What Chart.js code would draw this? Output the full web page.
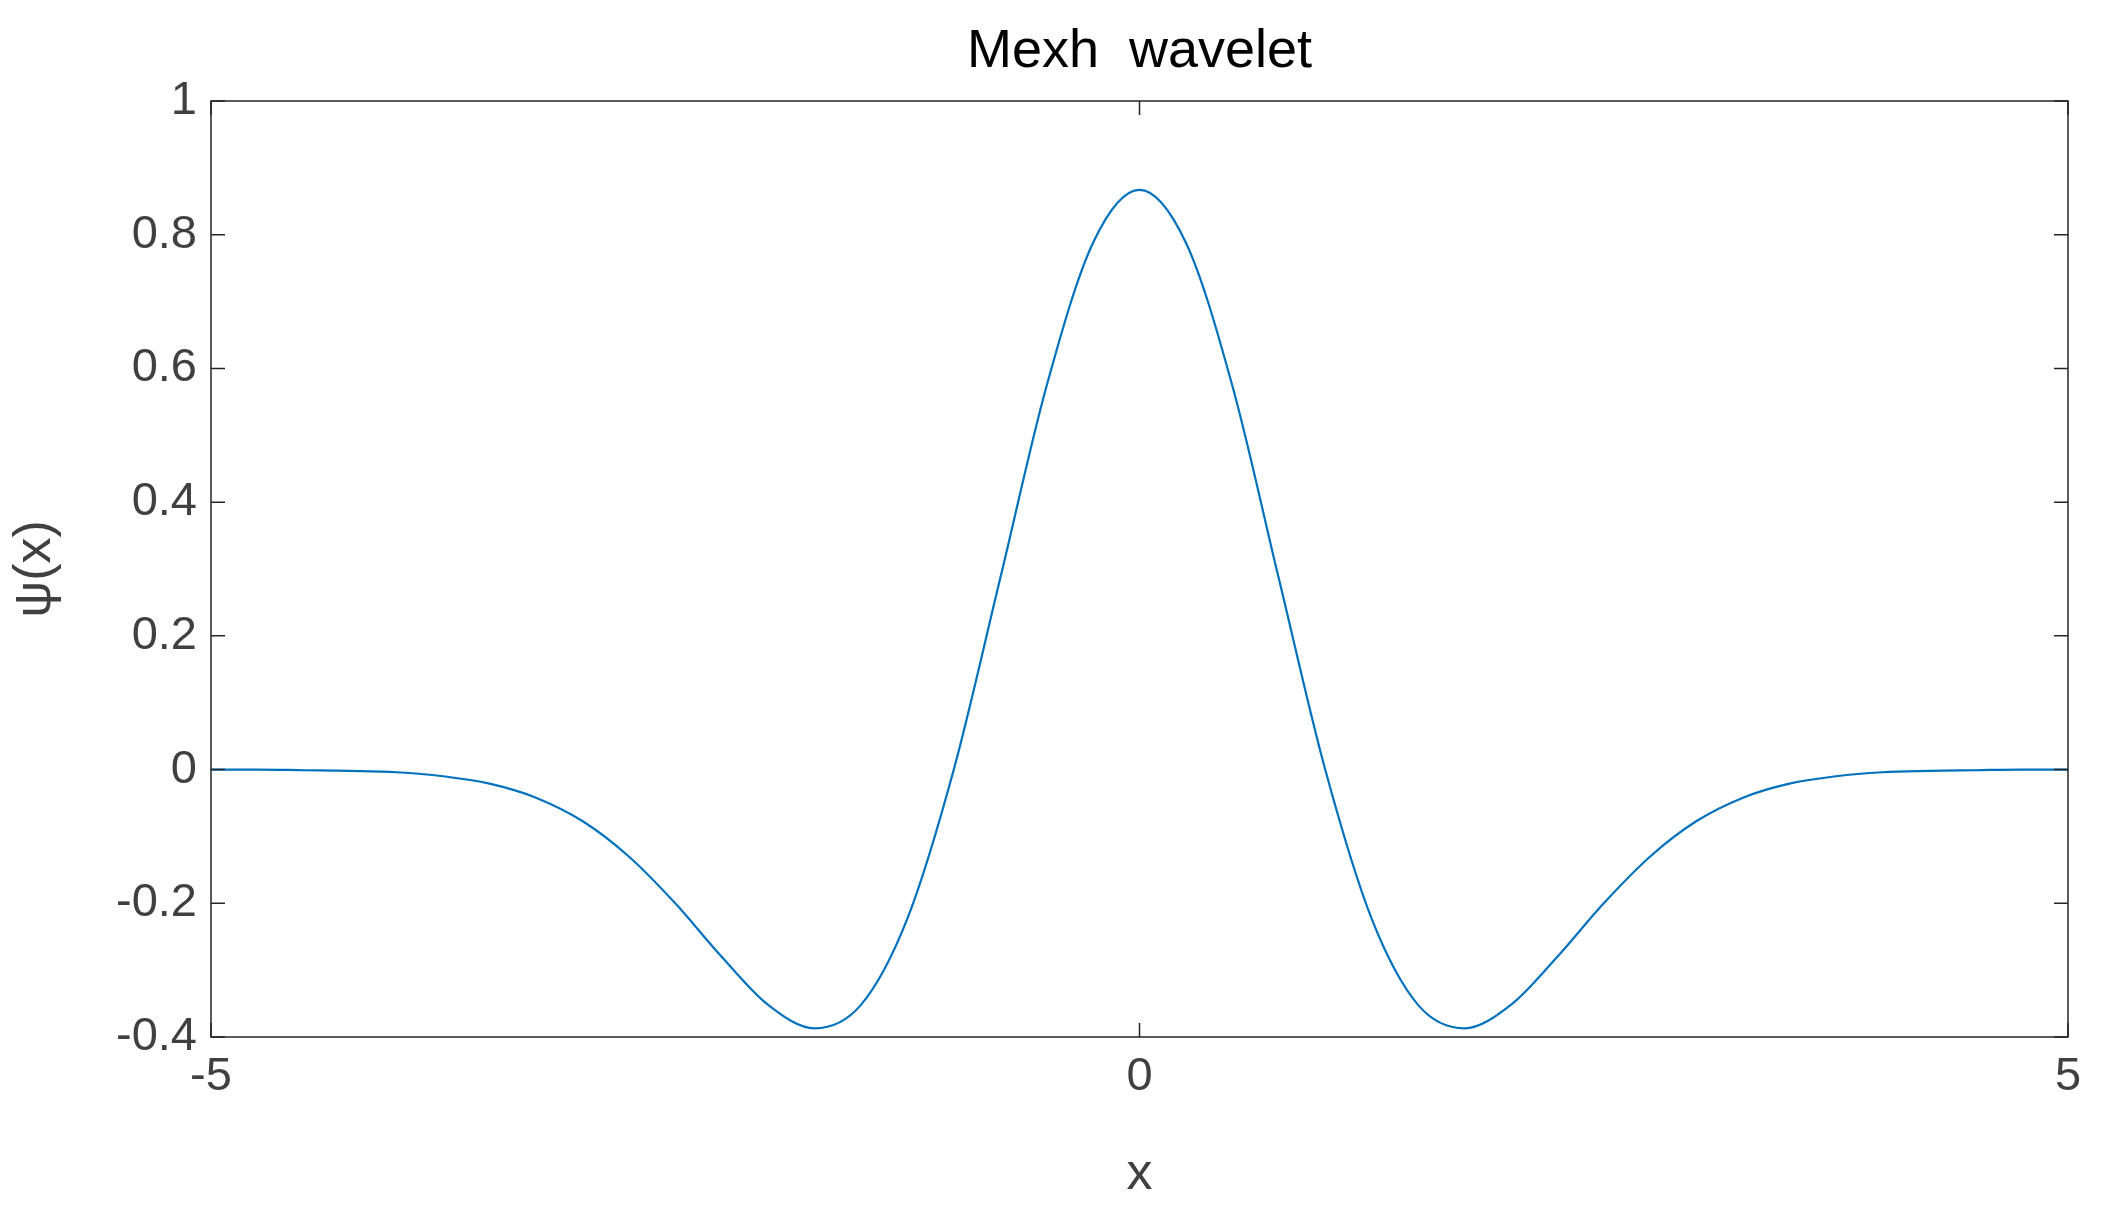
<!DOCTYPE html>
<html><head><meta charset="utf-8">
<script src="https://cdn.jsdelivr.net/npm/chart.js@4"></script>
<style>body{margin:0;background:#fff}canvas{display:block}</style>
</head><body>
<canvas id="c" width="2112" height="1210"></canvas>
<script>
const xValues = [-5,-4.75,-4.5,-4.25,-4,-3.75,-3.5,-3.25,-3,-2.75,-2.5,-2.25,-2,-1.75,-1.5,-1.25,-1,-0.75,-0.5,-0.25,0,0.25,0.5,0.75,1,1.25,1.5,1.75,2,2.25,2.5,2.75,3,3.25,3.5,3.75,4,4.25,4.5,4.75,5];
const psiValues = [0,0,-0.001,-0.002,-0.004,-0.010,-0.021,-0.042,-0.077,-0.130,-0.200,-0.280,-0.352,-0.387,-0.352,-0.223,0,0.286,0.574,0.788,0.867,0.788,0.574,0.286,0,-0.223,-0.352,-0.387,-0.352,-0.280,-0.200,-0.130,-0.077,-0.042,-0.021,-0.010,-0.004,-0.002,-0.001,0,0];
const xTicks = [-5,0,5];
const yTicks = [-0.4,-0.2,0,0.2,0.4,0.6,0.8,1];
const titleText = 'Mexh  wavelet';

const frame = {
  id:'frame',
  afterDraw(ch){
    const {ctx, chartArea:a, scales:{x,y}} = ch;
    ctx.save();
    ctx.strokeStyle='#262626'; ctx.lineWidth=1.5;
    ctx.strokeRect(a.left,a.top,a.right-a.left,a.bottom-a.top);
    const L=14;
    ctx.beginPath();
    xTicks.forEach(v=>{const p=x.getPixelForValue(v);
      ctx.moveTo(p,a.bottom);ctx.lineTo(p,a.bottom-L);ctx.moveTo(p,a.top);ctx.lineTo(p,a.top+L);});
    yTicks.forEach(v=>{const p=y.getPixelForValue(v);
      ctx.moveTo(a.left,p);ctx.lineTo(a.left+L,p);ctx.moveTo(a.right,p);ctx.lineTo(a.right-L,p);});
    ctx.stroke();
    ctx.fillStyle='#000'; ctx.font='54px Arial, "Liberation Sans"';
    ctx.textAlign='center'; ctx.textBaseline='middle';
    ctx.fillText(titleText,(a.left+a.right)/2,52);
    ctx.restore();
  }
};

new Chart(document.getElementById('c'),{
  type:'scatter',
  data:{datasets:[{data:xValues.map((v,i)=>({x:v,y:psiValues[i]})),showLine:true,
    borderColor:'#0072BD',borderWidth:2.2,pointRadius:0,cubicInterpolationMode:'monotone',fill:false}]},
  options:{
    responsive:false,animation:false,
    layout:{padding:{top:101,right:44,left:0,bottom:0}},
    plugins:{legend:{display:false},tooltip:{enabled:false}},
    scales:{
      x:{type:'linear',min:-5,max:5,
        afterBuildTicks(s){s.ticks=xTicks.map(v=>({value:v}));},
        afterFit(s){s.height=173;},
        grid:{display:false,drawTicks:false},border:{display:false},
        ticks:{color:'#404040',font:{size:47,family:'Arial, "Liberation Sans"'},padding:12},
        title:{display:true,text:'x',color:'#404040',font:{size:52,family:'Arial, "Liberation Sans"'},padding:{top:10}}},
      y:{min:-0.4,max:1,
        afterBuildTicks(s){s.ticks=yTicks.map(v=>({value:v}));},
        afterFit(s){s.width=211;},
        grid:{display:false,drawTicks:false},border:{display:false},
        ticks:{color:'#404040',font:{size:47,family:'Arial, "Liberation Sans"'},padding:14,
          callback:v=>String(Math.round(v*10)/10)},
        title:{display:true,text:'ψ(x)',color:'#404040',font:{size:52,family:'Arial, "Liberation Sans"'},padding:{bottom:6}}}
    }
  },
  plugins:[frame]
});
</script>
</body></html>
